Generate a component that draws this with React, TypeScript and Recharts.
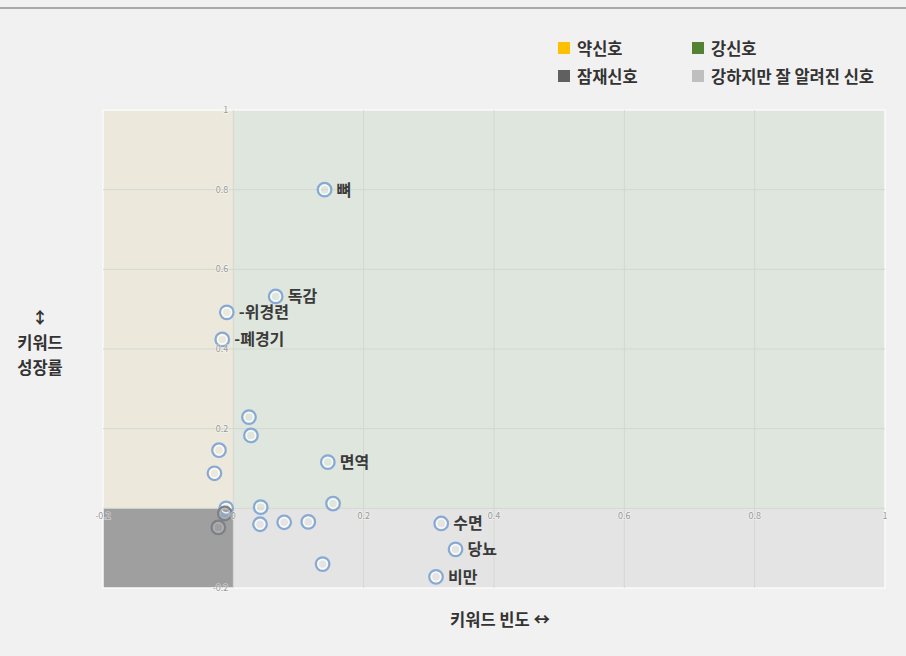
import React from 'react';
import {
  ScatterChart, Scatter, XAxis, YAxis, ReferenceArea, ReferenceLine, LabelList
} from 'recharts';

// keyword frequency (x) vs keyword growth (y)
const keywords = [
  '뼈', '독감', '-위경련', '-폐경기', '', '', '', '', '면역', '', '', '', '', '', '', '', '', '', '수면', '당뇨', '비만'
];
const frequency = [
  0.14, 0.065, -0.01, -0.017, 0.024, 0.027, -0.022, -0.029, 0.145, 0.153, 0.042, -0.011, -0.013, -0.023, 0.041, 0.078, 0.115, 0.137, 0.319, 0.341, 0.311
];
const growth = [
  0.8, 0.532, 0.492, 0.424, 0.229, 0.183, 0.146, 0.088, 0.116, 0.012, 0.003, 0.0, -0.013, -0.048, -0.04, -0.035, -0.034, -0.14, -0.038, -0.103, -0.172
];

const xTicks = [-0.2, 0, 0.2, 0.4, 0.6, 0.8, 1];
const yTicks = [-0.2, 0, 0.2, 0.4, 0.6, 0.8, 1];

const legendItems = [
  { name: '약신호', color: '#ffc000' },
  { name: '강신호', color: '#548235' },
  { name: '잠재신호', color: '#606060' },
  { name: '강하지만 잘 알려진 신호', color: '#bfbfbf' },
];

const data = keywords.map((name, i) => ({ name, x: frequency[i], y: growth[i] }));

// tick labels sit on the axes that cross at the origin
const xTickData = xTicks.map(t => ({ x: t, y: 0, label: String(t) }));
const yTickData = yTicks.filter(t => t !== 0).map(t => ({ x: 0, y: t, label: String(t) }));

const FONT = '"Noto Sans CJK KR", "Noto Sans", sans-serif';

const RingDot = (props: any) => {
  const { cx, cy, payload } = props;
  if (cx == null || cy == null) return null;
  // points inside the dark quadrant look greyed out
  const dim = payload && payload.x < 0 && payload.y < 0;
  return (
    <g>
      <circle cx={cx} cy={cy} r={6.8} fill="none" stroke={dim ? '#7c8088' : '#86aad4'} strokeWidth={2.2} />
      <circle cx={cx} cy={cy} r={4.6} fill="none" stroke={dim ? '#b4b4b4' : '#ffffff'} strokeOpacity={0.85} strokeWidth={1.5} />
    </g>
  );
};

const NoDot = () => <g />;

const PointLabel = (props: any) => {
  const { x, y, width, height, value } = props;
  if (!value) return null;
  return (
    <text x={x + width / 2 + 12} y={y + height / 2} dy={6} fontSize={16} fontWeight={700} fill="#3a3a3a" fontFamily={FONT}>
      {value}
    </text>
  );
};

const tickStyle = {
  fontSize: 9,
  fill: '#9a9a9a',
  fontFamily: FONT,
  stroke: 'rgba(255,255,255,0.45)',
  strokeWidth: 1.6,
  paintOrder: 'stroke',
} as any;

const XTickLabel = (props: any) => {
  const { x, y, width, height, value } = props;
  return (
    <text x={x + width / 2} y={y + height / 2 + 11} textAnchor="middle" style={tickStyle}>
      {value}
    </text>
  );
};

const YTickLabel = (props: any) => {
  const { x, y, width, height, value } = props;
  return (
    <text x={x + width / 2 - 5} y={y + height / 2 + 3} textAnchor="end" style={tickStyle}>
      {value}
    </text>
  );
};

export default function App() {
  return (
    <div style={{ position: 'fixed', left: 0, top: 0, width: 906, height: 656, background: '#f1f1f1', overflow: 'hidden', fontFamily: FONT }}>
      <div style={{ position: 'absolute', left: 0, top: 7, width: 906, height: 2, background: '#a9a9a9' }} />

      {/* legend */}
      <div style={{ position: 'absolute', left: 558, top: 36, display: 'grid', gridTemplateColumns: '134px auto', rowGap: 4, fontSize: 16.5, fontWeight: 700, color: '#333' }}>
        {legendItems.map(item => (
          <div key={item.name} style={{ display: 'flex', alignItems: 'center', height: 24 }}>
            <span style={{ display: 'inline-block', width: 12, height: 12, background: item.color, marginRight: 7 }} />
            {item.name}
          </div>
        ))}
      </div>

      {/* y axis title */}
      <div style={{ position: 'absolute', left: 0, top: 305, width: 80, textAlign: 'center', fontSize: 16.5, fontWeight: 700, color: '#333', lineHeight: '25px' }}>
        <div>↕</div>
        <div>키워드</div>
        <div>성장률</div>
      </div>

      {/* x axis title */}
      <div style={{ position: 'absolute', left: 400, top: 607, width: 200, textAlign: 'center', fontSize: 16.5, fontWeight: 700, color: '#333' }}>
        키워드 빈도 ↔
      </div>

      <div style={{ position: 'absolute', left: 0, top: 0 }}>
        <ScatterChart width={906} height={656} margin={{ top: 110, right: 21, bottom: 68, left: 103 }}>
          <XAxis type="number" dataKey="x" domain={[-0.2, 1]} ticks={xTicks} hide />
          <YAxis type="number" dataKey="y" domain={[-0.2, 1]} ticks={yTicks} hide />

          <ReferenceArea x1={-0.2} x2={0} y1={0} y2={1} fill="#ece9dc" fillOpacity={1} stroke="none" />
          <ReferenceArea x1={0} x2={1} y1={0} y2={1} fill="#dfe6de" fillOpacity={1} stroke="none" />
          <ReferenceArea x1={0} x2={1} y1={-0.2} y2={0} fill="#e4e4e4" fillOpacity={1} stroke="none" />
          <ReferenceArea x1={-0.2} x2={0} y1={-0.2} y2={0} fill="#9f9f9f" fillOpacity={1} stroke="none" />

          {xTicks.slice(1, -1).map(t => (
            <ReferenceLine key={'gx' + t} x={t} stroke="#d2d8d1" strokeWidth={1} />
          ))}
          {yTicks.slice(1, -1).map(t => (
            <ReferenceLine key={'gy' + t} y={t} stroke="#d2d8d1" strokeWidth={1} />
          ))}
          <ReferenceArea x1={-0.2} x2={1} y1={-0.2} y2={1} fill="none" stroke="#fafafa" strokeWidth={1.5} />

          <Scatter data={data} shape={RingDot} isAnimationActive={false}>
            <LabelList dataKey="name" content={PointLabel} />
          </Scatter>

          <Scatter data={xTickData} shape={NoDot} isAnimationActive={false}>
            <LabelList dataKey="label" content={XTickLabel} />
          </Scatter>
          <Scatter data={yTickData} shape={NoDot} isAnimationActive={false}>
            <LabelList dataKey="label" content={YTickLabel} />
          </Scatter>
        </ScatterChart>
      </div>
    </div>
  );
}
